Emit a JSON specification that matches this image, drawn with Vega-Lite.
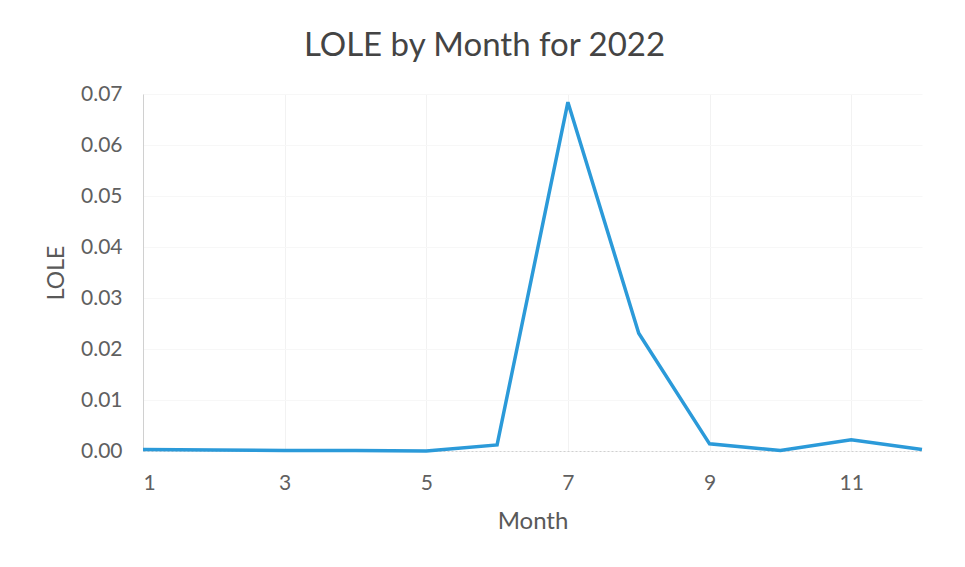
{
  "$schema": "https://vega.github.io/schema/vega-lite/v6.json",
  "width": 779,
  "height": 357,
  "autosize": "none",
  "padding": {"left": 143, "top": 94, "right": 43, "bottom": 116},
  "background": "white",
  "title": {
    "text": "LOLE by Month for 2022",
    "font": "Lato",
    "fontSize": 33,
    "fontWeight": "normal",
    "color": "#444444",
    "anchor": "middle",
    "offset": 20,
    "dx": -48
  },
  "data": {
    "values": [
      {"Month": 1, "LOLE": 0.0003},
      {"Month": 2, "LOLE": 0.0002},
      {"Month": 3, "LOLE": 0.0001},
      {"Month": 4, "LOLE": 0.0001},
      {"Month": 5, "LOLE": 0.0000},
      {"Month": 6, "LOLE": 0.0012},
      {"Month": 7, "LOLE": 0.0684},
      {"Month": 8, "LOLE": 0.0231},
      {"Month": 9, "LOLE": 0.0014},
      {"Month": 10, "LOLE": 0.0001},
      {"Month": 11, "LOLE": 0.0022},
      {"Month": 12, "LOLE": 0.0003}
    ]
  },
  "mark": {"type": "line", "color": "#2b9ad9", "strokeWidth": 3.5, "strokeJoin": "miter"},
  "encoding": {
    "x": {
      "field": "Month",
      "type": "quantitative",
      "scale": {"domain": [1, 12], "nice": false, "zero": false},
      "axis": {
        "values": [1, 3, 5, 7, 9, 11],
        "title": "Month",
        "titleFont": "Lato",
        "titleFontSize": 24,
        "titleFontWeight": "normal",
        "titleColor": "#595959",
        "titlePadding": 16,
        "labelFont": "Lato",
        "labelFontSize": 21,
        "labelColor": "#606060",
        "labelPadding": 21,
        "ticks": false,
        "domain": true,
        "domainColor": "#d0d0d0",
        "domainDash": [2, 2],
        "grid": true,
        "gridColor": "#f2f2f2"
      }
    },
    "y": {
      "field": "LOLE",
      "type": "quantitative",
      "scale": {"domain": [0, 0.07], "nice": false},
      "axis": {
        "values": [0, 0.01, 0.02, 0.03, 0.04, 0.05, 0.06, 0.07],
        "format": ".2f",
        "title": "LOLE",
        "titleFont": "Lato",
        "titleFontSize": 23,
        "titleFontWeight": "normal",
        "titleColor": "#595959",
        "titlePadding": 12,
        "labelFont": "Lato",
        "labelFontSize": 21,
        "labelColor": "#606060",
        "labelPadding": 21,
        "ticks": false,
        "domain": true,
        "domainColor": "#d0d0d0",
        "grid": true,
        "gridColor": "#f7f7f7"
      }
    }
  },
  "config": {"view": {"stroke": null}}
}
